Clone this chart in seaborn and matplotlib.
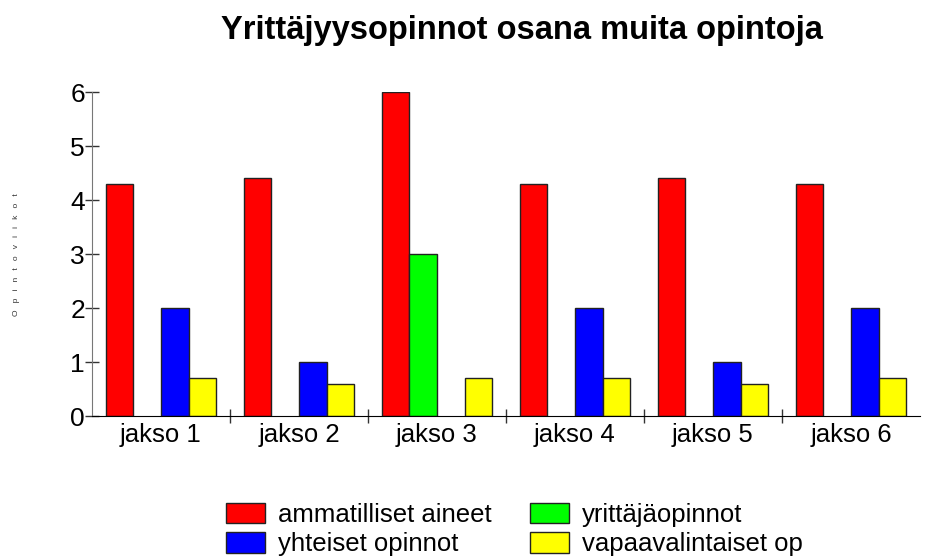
import numpy as np
import pandas as pd
import matplotlib
matplotlib.use("Agg")
import matplotlib.pyplot as plt
import seaborn as sns
from matplotlib.ticker import FixedLocator

categories = ["jakso 1", "jakso 2", "jakso 3", "jakso 4", "jakso 5", "jakso 6"]
series_names = ["ammatilliset aineet", "yrittäjäopinnot", "yhteiset opinnot", "vapaavalintaiset op"]
ammatilliset = [4.3, 4.4, 6.0, 4.3, 4.4, 4.3]
yrittaja = [np.nan, np.nan, 3.0, np.nan, np.nan, np.nan]
yhteiset = [2.0, 1.0, np.nan, 2.0, 1.0, 2.0]
vapaa = [0.7, 0.6, 0.7, 0.7, 0.6, 0.7]
colors = ["#ff0000", "#00ff00", "#0000ff", "#ffff00"]
yticks = [0, 1, 2, 3, 4, 5, 6]
ylabel_text = "Opintoviikot"

rows = []
for name, vals in zip(series_names, [ammatilliset, yrittaja, yhteiset, vapaa]):
    for c, v in zip(categories, vals):
        if not np.isnan(v):
            rows.append({"jakso": c, "sarja": name, "arvo": v})
df = pd.DataFrame(rows)

sns.set_style("white")
plt.rcParams["font.family"] = ["Liberation Sans", "DejaVu Sans"]
for k in ["text.color", "axes.labelcolor", "xtick.color", "ytick.color"]:
    plt.rcParams[k] = "black"

fig = plt.figure(figsize=(9.32, 5.59), dpi=100)
ax = fig.add_axes([0.0987, 0.2558, 0.8884, 0.5796])

sns.barplot(data=df, x="jakso", y="arvo", hue="sarja", order=categories,
            hue_order=series_names, palette=colors, edgecolor="#222222",
            linewidth=1.0, width=0.8, saturation=1, errorbar=None, ax=ax, legend=True)

ax.set_xlim(-0.5, len(categories) - 0.5)
ax.set_ylim(0, 6)
ax.set_yticks(yticks)
ax.set_yticklabels([str(t) for t in yticks], fontsize=19)
ax.tick_params(axis="y", direction="inout", length=10, width=1, color="#333333", pad=0, left=True)
ax.tick_params(axis="x", which="major", length=0, labelsize=18.5, pad=5)
ax.xaxis.set_minor_locator(FixedLocator([i + 0.5 for i in range(len(categories) - 1)]))
ax.tick_params(axis="x", which="minor", direction="inout", length=10, width=1, color="#333333", bottom=True)
for s in ["top", "right"]:
    ax.spines[s].set_visible(False)
ax.spines["left"].set_color("#777777")
ax.spines["bottom"].set_color("#000000")
ax.set_xlabel("")
ax.set_ylabel("")

fig.text(17 / 932, 0.544, "   ".join(ylabel_text), rotation=90, fontsize=6,
         ha="center", va="center", color="#333333")

handles, labels = ax.get_legend_handles_labels()
ax.get_legend().remove()
order = [0, 2, 1, 3]
leg = fig.legend([handles[i] for i in order], [labels[i] for i in order],
                 loc="center", bbox_to_anchor=(0.552, 0.053), ncol=2, frameon=False,
                 fontsize=18.5, handlelength=1.52, handleheight=0.86, handletextpad=0.5,
                 columnspacing=1.48, labelspacing=0.2, borderpad=0.1)

fig.suptitle("Yrittäjyysopinnot osana muita opintoja", x=0.56, y=0.946, va="center",
             fontsize=23.5, fontweight="bold")

fig.savefig("out.png", dpi=100)
